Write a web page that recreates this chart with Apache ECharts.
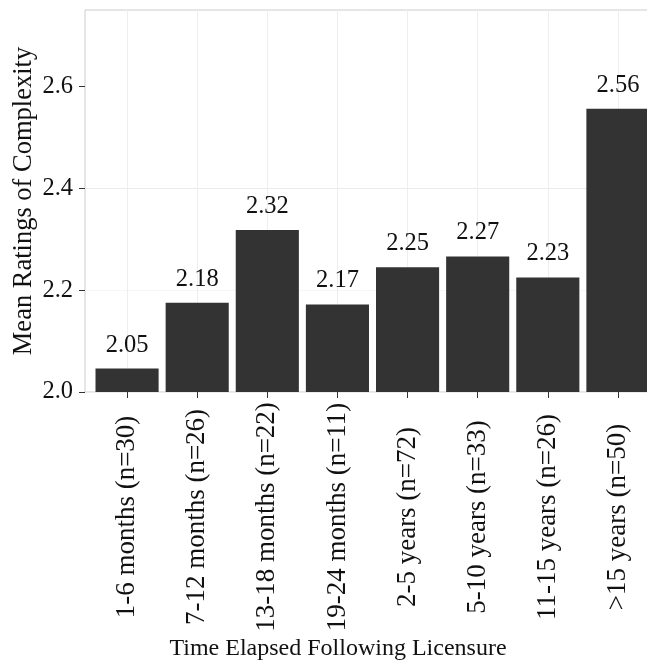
<!DOCTYPE html>
<html>
<head>
<meta charset="utf-8">
<script src="https://cdn.jsdelivr.net/npm/echarts@6/dist/echarts.min.js"></script>
<style>
  html, body { margin: 0; padding: 0; background: #ffffff; }
  #chart { width: 647px; height: 667px; }
</style>
</head>
<body>
<div id="chart"></div>
<script>
const categories = [
  '1-6 months (n=30)',
  '7-12 months (n=26)',
  '13-18 months (n=22)',
  '19-24 months (n=11)',
  '2-5 years (n=72)',
  '5-10 years (n=33)',
  '11-15 years (n=26)',
  '>15 years (n=50)'
];
const meanRatings = [2.046, 2.175, 2.318, 2.172, 2.245, 2.266, 2.225, 2.556];
const valueLabels = ['2.05', '2.18', '2.32', '2.17', '2.25', '2.27', '2.23', '2.56'];
const yTickValues = [2.0, 2.2, 2.4, 2.6];
const yMin = 2.0;
const yMax = 2.75;
const yTitle = 'Mean Ratings of Complexity';
const xTitle = 'Time Elapsed Following Licensure';

const FONT = 'Liberation Serif, Times New Roman, serif';
const TEXT = '#111111';

const chart = echarts.init(document.getElementById('chart'), null, { renderer: 'canvas' });
chart.setOption({
  animation: false,
  backgroundColor: '#ffffff',
  grid: [
    { left: 85, top: 10, width: 575, height: 382, show: true, borderColor: '#cccccc', borderWidth: 1,
      backgroundColor: 'transparent', containLabel: false, outerBoundsMode: 'none' },
    { left: 92, top: 10, width: 561, height: 382, containLabel: false, outerBoundsMode: 'none' }
  ],
  xAxis: [
    { gridIndex: 0, type: 'value', min: 0, max: 1, show: false },
    {
      gridIndex: 1, type: 'category', data: categories,
      axisLine: { show: false },
      axisTick: { show: true, alignWithLabel: true, interval: 0, length: 6, lineStyle: { color: '#333333', width: 1 } },
      axisLabel: { rotate: 90, interval: 0, margin: 125, align: 'center', verticalAlign: 'middle',
                   fontSize: 27, fontFamily: FONT, color: TEXT, hideOverlap: false },
      splitLine: { show: true, interval: 0, alignWithLabel: true, lineStyle: { color: '#eeeeee', width: 1 } }
    }
  ],
  yAxis: [
    {
      gridIndex: 0, type: 'value', min: yMin, max: yMax, interval: 0.1,
      axisLine: { show: false },
      axisTick: { show: true, customValues: yTickValues, length: 6, lineStyle: { color: '#333333', width: 1 } },
      axisLabel: { customValues: yTickValues, margin: 12, fontSize: 24.5, fontFamily: FONT, color: TEXT,
                   formatter: v => Number(v).toFixed(1) },
      splitLine: { show: true, showMaxLine: false, lineStyle: { color: ['#ebebeb', '#f6f6f6'], width: 1 } }
    },
    { gridIndex: 1, type: 'value', min: yMin, max: yMax, show: false, splitLine: { show: false } }
  ],
  series: [
    {
      type: 'bar', xAxisIndex: 1, yAxisIndex: 1,
      data: meanRatings,
      barWidth: '90%',
      itemStyle: { color: '#333333' },
      label: {
        show: true, position: 'top', distance: 11,
        fontSize: 24.5, fontFamily: FONT, color: TEXT,
        formatter: p => valueLabels[p.dataIndex]
      }
    }
  ],
  graphic: [
    { type: 'text', x: 24, y: 201, rotation: Math.PI / 2,
      style: { text: yTitle, font: '26.5px ' + FONT, fill: TEXT, align: 'center', verticalAlign: 'middle' } },
    { type: 'text', x: 338, y: 649,
      style: { text: xTitle, font: '24px ' + FONT, fill: TEXT, align: 'center', verticalAlign: 'middle' } }
  ]
});
</script>
</body>
</html>
